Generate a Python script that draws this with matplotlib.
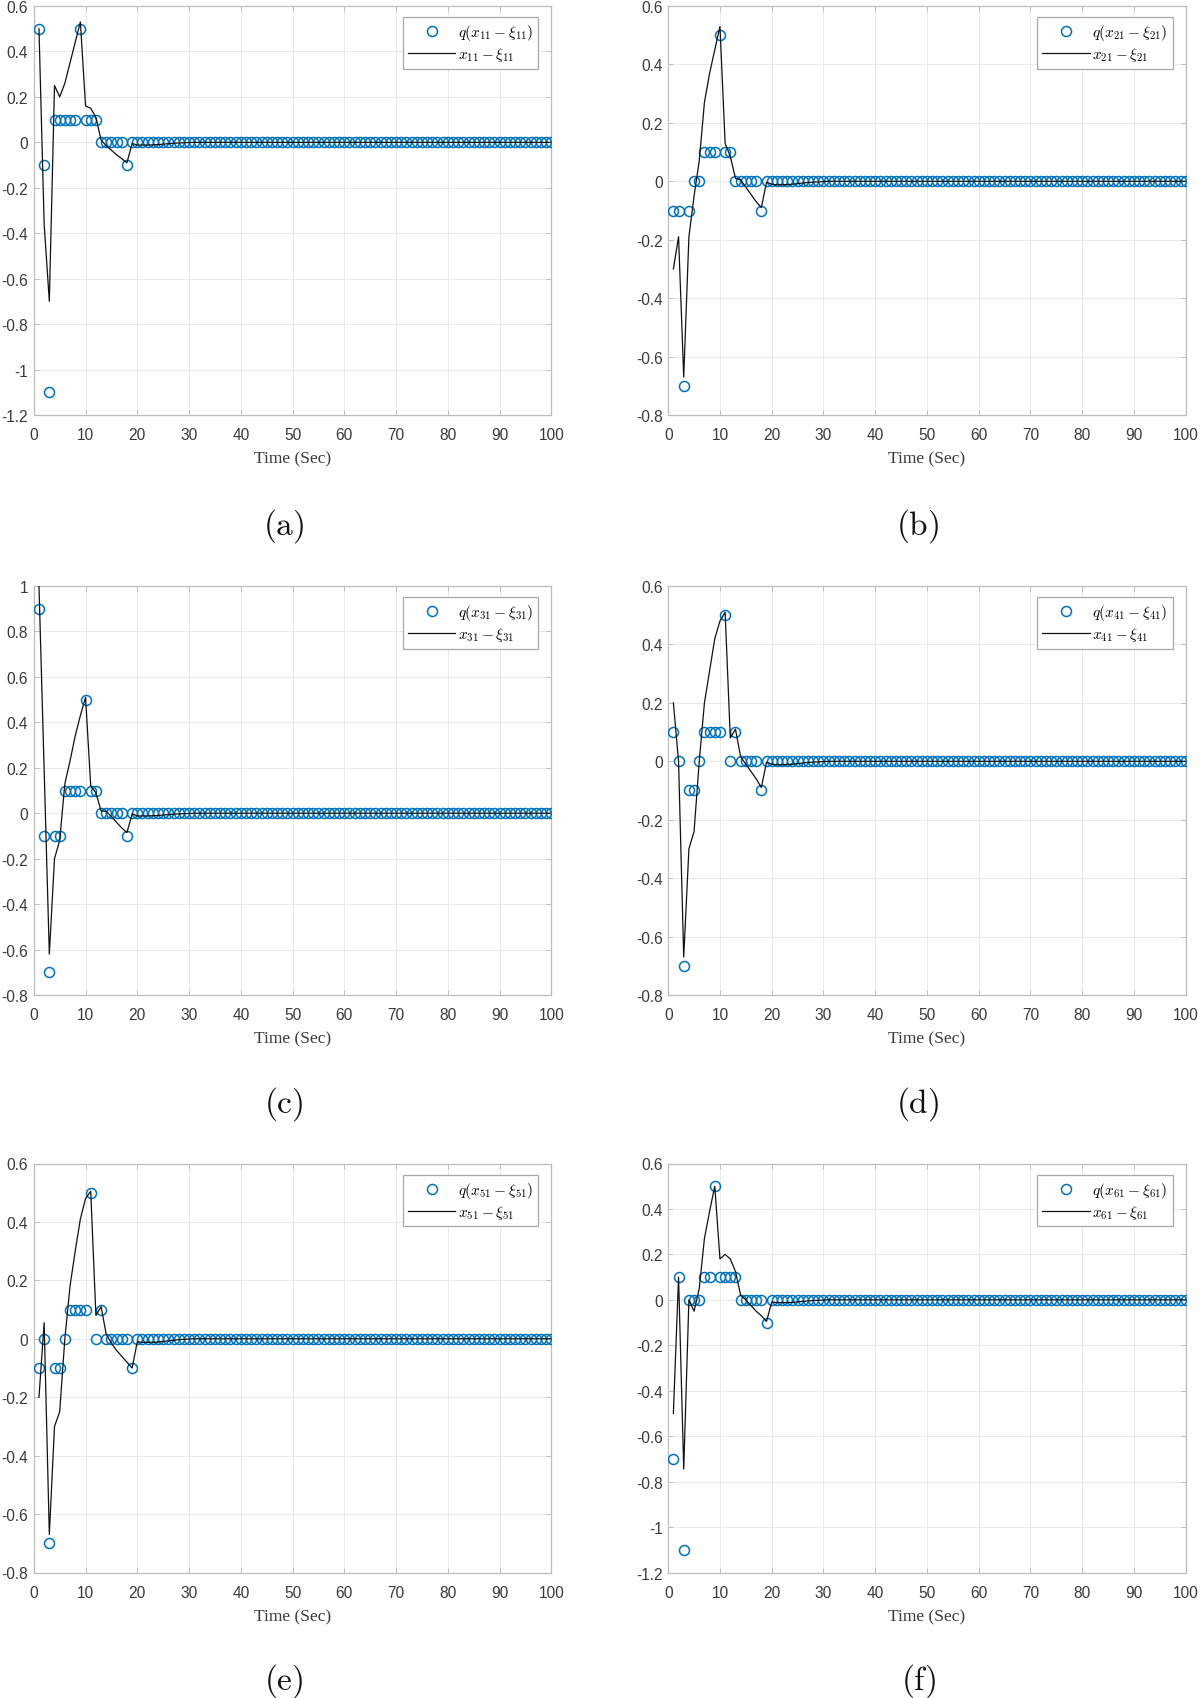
import matplotlib
matplotlib.use("Agg")
import matplotlib.pyplot as plt
from matplotlib.ticker import FuncFormatter, MultipleLocator

plt.rcParams['mathtext.fontset'] = 'cm'

# ---------------- data ----------------
t = list(range(1, 101))

# quantized values q(x_i1 - xi_i1)
q11 = [0.5, -0.1, -1.1, 0.1, 0.1, 0.1, 0.1, 0.1, 0.5, 0.1, 0.1, 0.1,
       0.0, 0.0, 0.0, 0.0, 0.0, -0.1] + [0.0] * 82
q21 = [-0.1, -0.1, -0.7, -0.1, 0.0, 0.0, 0.1, 0.1, 0.1, 0.5, 0.1, 0.1,
       0.0, 0.0, 0.0, 0.0, 0.0, -0.1] + [0.0] * 82
q31 = [0.9, -0.1, -0.7, -0.1, -0.1, 0.1, 0.1, 0.1, 0.1, 0.5, 0.1, 0.1,
       0.0, 0.0, 0.0, 0.0, 0.0, -0.1] + [0.0] * 82
q41 = [0.1, 0.0, -0.7, -0.1, -0.1, 0.0, 0.1, 0.1, 0.1, 0.1, 0.5, 0.0,
       0.1, 0.0, 0.0, 0.0, 0.0, -0.1] + [0.0] * 82
q51 = [-0.1, 0.0, -0.7, -0.1, -0.1, 0.0, 0.1, 0.1, 0.1, 0.1, 0.5, 0.0,
       0.1, 0.0, 0.0, 0.0, 0.0, 0.0, -0.1] + [0.0] * 81
q61 = [-0.7, 0.1, -1.1, 0.0, 0.0, 0.0, 0.1, 0.1, 0.5, 0.1, 0.1, 0.1,
       0.1, 0.0, 0.0, 0.0, 0.0, 0.0, -0.1] + [0.0] * 81

# continuous values x_i1 - xi_i1
e11 = [0.5, -0.36, -0.70, 0.25, 0.20, 0.26, 0.35, 0.44, 0.53, 0.16, 0.15, 0.11,
       0.01, -0.015, -0.035, -0.055, -0.072, -0.09,
       -0.005, -0.012, -0.012, -0.012, -0.011, -0.010, -0.008, -0.006, -0.004,
       -0.003, -0.002, -0.001] + [0.0] * 70
e21 = [-0.30, -0.19, -0.67, -0.19, -0.05, 0.07, 0.27, 0.37, 0.45, 0.53, 0.13, 0.085,
       0.01, 0.005, -0.02, -0.045, -0.07, -0.09,
       -0.003, -0.010, -0.012, -0.012, -0.011, -0.010, -0.008, -0.006, -0.004,
       -0.003, -0.002, -0.001] + [0.0] * 70
e31 = [1.0, 0.19, -0.62, -0.20, -0.12, 0.13, 0.23, 0.34, 0.43, 0.51, 0.12, 0.09,
       0.01, 0.008, -0.015, -0.04, -0.065, -0.085,
       -0.003, -0.012, -0.012, -0.012, -0.011, -0.010, -0.008, -0.006, -0.004,
       -0.003, -0.002, -0.001] + [0.0] * 70
e41 = [0.20, 0.0, -0.67, -0.30, -0.24, 0.0, 0.20, 0.31, 0.42, 0.48, 0.51, 0.08,
       0.11, 0.015, -0.01, -0.035, -0.06, -0.09,
       -0.003, -0.010, -0.012, -0.012, -0.011, -0.010, -0.008, -0.006, -0.004,
       -0.003, -0.002, -0.001] + [0.0] * 70
e51 = [-0.20, 0.055, -0.67, -0.30, -0.25, 0.0, 0.18, 0.30, 0.41, 0.48, 0.505, 0.08,
       0.11, 0.015, -0.015, -0.04, -0.06, -0.08, -0.10,
       -0.010, -0.012, -0.012, -0.012, -0.011, -0.009, -0.007, -0.005, -0.003,
       -0.002, -0.001] + [0.0] * 70
e61 = [-0.50, 0.10, -0.745, 0.0, -0.05, 0.05, 0.27, 0.39, 0.50, 0.18, 0.20, 0.18,
       0.125, 0.02, 0.0, -0.025, -0.05, -0.07, -0.095,
       -0.010, -0.012, -0.012, -0.012, -0.011, -0.009, -0.007, -0.005, -0.003,
       -0.002, -0.001] + [0.0] * 70

q_series = [q11, q21, q31, q41, q51, q61]
e_series = [e11, e21, e31, e41, e51, e61]
indices = ['11', '21', '31', '41', '51', '61']
ylims = [(-1.2, 0.6), (-0.8, 0.6), (-0.8, 1.0), (-0.8, 0.6), (-0.8, 0.6), (-1.2, 0.6)]
letters = ['a', 'b', 'c', 'd', 'e', 'f']
xlabel_text = 'Time (Sec)'

# ---------------- layout ----------------
W, H = 1200, 1699
fig = plt.figure(figsize=(W / 100, H / 100), dpi=100)

col_left = [33.8, 668.2]
ax_w = 517.5
row_top = [7.0, 587.0, 1164.5]
ax_h = 409.0
cap_y = [526.5, 1104.0, 1681.0]

tick_col = '#3a3a3a'
spine_col = '#bdbdbd'
blue = '#0072BD'

def fmt(v, pos):
    s = f"{round(v, 6):g}"
    if s == '-0':
        s = '0'
    return s

for i in range(6):
    r, c = divmod(i, 2)
    left = col_left[c] / W
    bottom = 1 - (row_top[r] + ax_h) / H
    ax = fig.add_axes([left, bottom, ax_w / W, ax_h / H])
    ax.plot(t, q_series[i], linestyle='none', marker='o', markersize=7.2,
            markerfacecolor='none', markeredgecolor=blue, markeredgewidth=1.1,
            label=rf'$q(x_{{{indices[i]}}}-\xi_{{{indices[i]}}})$', zorder=3)
    ax.plot(t, e_series[i], color='#111111', linewidth=0.9,
            label=rf'$x_{{{indices[i]}}}-\xi_{{{indices[i]}}}$', zorder=4)
    ax.set_xlim(0, 100)
    ax.set_ylim(*ylims[i])
    ax.xaxis.set_major_locator(MultipleLocator(10))
    ax.yaxis.set_major_locator(MultipleLocator(0.2))
    ax.yaxis.set_major_formatter(FuncFormatter(fmt))
    ax.xaxis.set_major_formatter(FuncFormatter(fmt))
    ax.grid(True, color='#eaeaea', linewidth=0.7)
    ax.set_axisbelow(True)
    for sp in ax.spines.values():
        sp.set_color(spine_col)
        sp.set_linewidth(0.9)
    ax.tick_params(direction='in', length=3.5, width=0.7, color=spine_col,
                   top=True, right=True, labelsize=11.2, labelcolor=tick_col)
    ax.tick_params(axis='x', pad=9)
    ax.tick_params(axis='y', pad=4)
    for lab in ax.get_xticklabels() + ax.get_yticklabels():
        lab.set_fontfamily('Liberation Sans')
    ax.set_xlabel(xlabel_text, fontfamily='Liberation Serif', fontsize=12.5,
                  color=tick_col, labelpad=6)
    leg = ax.legend(loc='upper right', bbox_to_anchor=(1 - 13 / ax_w, 1 - 11 / ax_h),
                    borderaxespad=0, fontsize=11, handlelength=3.1,
                    handletextpad=0.15, borderpad=0.35, labelspacing=0.2,
                    fancybox=False, framealpha=1, edgecolor='#a8a8a8')
    leg.get_frame().set_linewidth(0.9)
    fig.text((col_left[c] + ax_w / 2 - 9) / W, 1 - cap_y[r] / H,
             rf'$\mathrm{{({letters[i]})}}$', fontsize=24, ha='center', va='center',
             color='#111111')

fig.savefig('out.png', dpi=100)
